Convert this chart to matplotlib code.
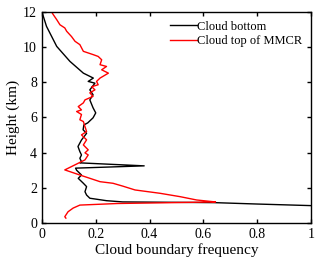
import matplotlib.pyplot as plt
import numpy as np

plt.rcParams['font.family'] = ['Liberation Serif', 'DejaVu Serif']

# Cloud bottom (black): frequency, height (km)
bottom_freq = [0.0, 0.017, 0.055, 0.104, 0.154, 0.191, 0.172, 0.197, 0.178, 0.19,
               0.178, 0.19, 0.2, 0.19, 0.17, 0.156, 0.153, 0.166, 0.147, 0.134,
               0.141, 0.147, 0.141, 0.147, 0.141, 0.38, 0.125, 0.129, 0.147, 0.135,
               0.154, 0.166, 0.16, 0.166, 0.178, 0.24, 0.30, 0.64, 0.80, 1.0]
bottom_h = [12.0, 11.18, 10.04, 9.19, 8.52, 8.24, 8.05, 7.95, 7.57, 7.29,
            7.0, 6.55, 6.26, 5.98, 5.69, 5.58, 5.3, 5.1, 4.72, 4.35,
            4.06, 3.87, 3.68, 3.49, 3.42, 3.25, 3.12, 3.0, 2.73, 2.54,
            2.26, 2.07, 1.78, 1.59, 1.41, 1.27, 1.2, 1.16, 1.08, 0.99]

# Cloud top of MMCR (red)
top_freq = [0.036, 0.042, 0.055, 0.067, 0.085, 0.092, 0.11, 0.123, 0.141, 0.154,
            0.191, 0.209, 0.222, 0.216, 0.24, 0.222, 0.247, 0.216, 0.203, 0.209,
            0.185, 0.197, 0.178, 0.19, 0.16, 0.154, 0.135, 0.147, 0.129, 0.147,
            0.141, 0.154, 0.16, 0.166, 0.147, 0.166, 0.154, 0.172, 0.16, 0.172,
            0.16, 0.085, 0.141, 0.216, 0.264, 0.30, 0.346, 0.439, 0.513, 0.575,
            0.625, 0.645, 0.45, 0.28, 0.141, 0.116, 0.097, 0.085, 0.089]
top_h = [12.0, 11.85, 11.56, 11.27, 11.09, 10.9, 10.6, 10.33, 10.14, 9.76,
         9.57, 9.47, 9.28, 9.0, 8.9, 8.71, 8.52, 8.24, 8.05, 7.86,
         7.75, 7.57, 7.4, 7.2, 7.0, 6.83, 6.62, 6.43, 6.34, 6.17,
         5.87, 5.77, 5.48, 5.2, 5.01, 4.73, 4.44, 4.16, 3.99, 3.87,
         3.59, 3.02, 2.73, 2.35, 2.26, 2.1, 1.88, 1.69, 1.5, 1.31,
         1.23, 1.2, 1.15, 1.11, 1.02, 0.85, 0.64, 0.36, 0.28]

fig = plt.figure(figsize=(3.2, 2.71), dpi=100)
ax = fig.add_axes([0.131, 0.177, 0.841, 0.779])

ax.plot(bottom_freq, bottom_h, color='black', lw=1.0, label='Cloud bottom')
ax.plot(top_freq, top_h, color='red', lw=1.0, label='Cloud top of MMCR')

ax.set_xlim(0, 1)
ax.set_ylim(0, 12)
ax.set_xticks(np.arange(0, 1.01, 0.2))
ax.set_xticklabels(['0', '0.2', '0.4', '0.6', '0.8', '1'])
ax.set_yticks(range(0, 13, 2))
ax.tick_params(direction='in', top=True, right=True, labelsize=10, length=3, width=1)
for s in ax.spines.values():
    s.set_linewidth(1.0)

ax.set_xlabel('Cloud boundary frequency', fontsize=11, labelpad=2)
ax.set_ylabel('Height (km)', fontsize=11, labelpad=2)

ax.legend(loc='upper right', frameon=False, fontsize=9, handlelength=2.2,
          handletextpad=0.0, labelspacing=0.2, borderaxespad=0.3)

fig.savefig('out.png', dpi=100)
